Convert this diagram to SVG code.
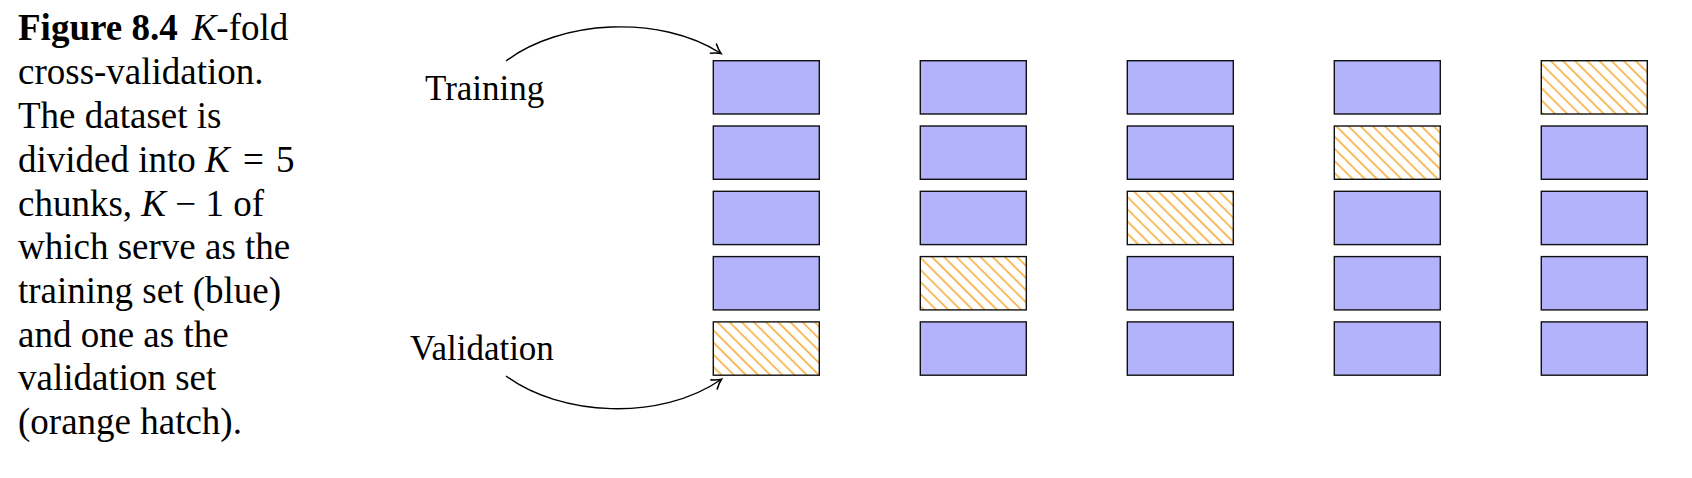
<svg xmlns="http://www.w3.org/2000/svg" width="1692" height="478" viewBox="0 0 1692 478">
<style>
.cap{font-family:"Liberation Serif","Times New Roman",serif;font-size:37px;fill:#000}
.lbl{font-family:"Liberation Serif","Times New Roman",serif;font-size:35px;fill:#000}
.b{font-weight:bold}
.m{font-style:italic}
.tr{fill:#B3B3FC;stroke:#111;stroke-width:1.4}
.va{fill:url(#hatch);stroke:#111;stroke-width:1.4}
.conn{fill:none;stroke:#000;stroke-width:1.4}
</style>
<defs>
<pattern id="hatch" patternUnits="userSpaceOnUse" width="8.6" height="8.6" patternTransform="rotate(45)">
<line x1="-1" y1="4.3" x2="9.6" y2="4.3" stroke="#F5A42A" stroke-width="1.5"/>
</pattern>
<marker id="arr" markerUnits="userSpaceOnUse" markerWidth="20" markerHeight="20" refX="0" refY="0" viewBox="-10 -10 20 20" orient="auto" overflow="visible">
<path d="M-9,-5.5 Q-3.5,-1.3 0,0 Q-3.5,1.3 -9,5.5" fill="none" stroke="#000" stroke-width="1.6" stroke-linecap="round"/>
</marker>
</defs>
<rect width="1692" height="478" fill="#fff"/>
<g id="caption">
<text class="cap" x="18" y="40"><tspan class="b">Figure 8.4</tspan><tspan dx="14" class="m">K</tspan>-fold</text>
<text class="cap" x="18" y="84">cross-validation.</text>
<text class="cap" x="18" y="128">The dataset is</text>
<text class="cap" x="18" y="171.5">divided into <tspan class="m">K</tspan><tspan dx="4"> = </tspan><tspan dx="3">5</tspan></text>
<text class="cap" x="18" y="215.5">chunks, <tspan class="m">K</tspan> − 1 of</text>
<text class="cap" x="18" y="259">which serve as the</text>
<text class="cap" x="18" y="302.5">training set (blue)</text>
<text class="cap" x="18" y="346.5">and one as the</text>
<text class="cap" x="18" y="390">validation set</text>
<text class="cap" x="18" y="433.5">(orange hatch).</text>
</g>
<g id="label-training"><text class="lbl" x="425" y="100">Training</text></g>
<g id="label-validation"><text class="lbl" x="410" y="360">Validation</text></g>
<g id="fold1">
<rect class="tr" x="713.3" y="60.7" width="106" height="53.3"/>
<rect class="tr" x="713.3" y="126" width="106" height="53.3"/>
<rect class="tr" x="713.3" y="191.3" width="106" height="53.3"/>
<rect class="tr" x="713.3" y="256.6" width="106" height="53.3"/>
<rect class="va" x="713.3" y="321.9" width="106" height="53.3"/>
</g>
<g id="fold2">
<rect class="tr" x="920.3" y="60.7" width="106" height="53.3"/>
<rect class="tr" x="920.3" y="126" width="106" height="53.3"/>
<rect class="tr" x="920.3" y="191.3" width="106" height="53.3"/>
<rect class="va" x="920.3" y="256.6" width="106" height="53.3"/>
<rect class="tr" x="920.3" y="321.9" width="106" height="53.3"/>
</g>
<g id="fold3">
<rect class="tr" x="1127.3" y="60.7" width="106" height="53.3"/>
<rect class="tr" x="1127.3" y="126" width="106" height="53.3"/>
<rect class="va" x="1127.3" y="191.3" width="106" height="53.3"/>
<rect class="tr" x="1127.3" y="256.6" width="106" height="53.3"/>
<rect class="tr" x="1127.3" y="321.9" width="106" height="53.3"/>
</g>
<g id="fold4">
<rect class="tr" x="1334.3" y="60.7" width="106" height="53.3"/>
<rect class="va" x="1334.3" y="126" width="106" height="53.3"/>
<rect class="tr" x="1334.3" y="191.3" width="106" height="53.3"/>
<rect class="tr" x="1334.3" y="256.6" width="106" height="53.3"/>
<rect class="tr" x="1334.3" y="321.9" width="106" height="53.3"/>
</g>
<g id="fold5">
<rect class="va" x="1541.3" y="60.7" width="106" height="53.3"/>
<rect class="tr" x="1541.3" y="126" width="106" height="53.3"/>
<rect class="tr" x="1541.3" y="191.3" width="106" height="53.3"/>
<rect class="tr" x="1541.3" y="256.6" width="106" height="53.3"/>
<rect class="tr" x="1541.3" y="321.9" width="106" height="53.3"/>
</g>
<g id="connectors">
<path class="conn" d="M506,61 C560,20 660,14 721,53.5" marker-end="url(#arr)"/>
<path class="conn" d="M506,376 C560,416 660,422 721.5,379.3" marker-end="url(#arr)"/>
</g>
</svg>
